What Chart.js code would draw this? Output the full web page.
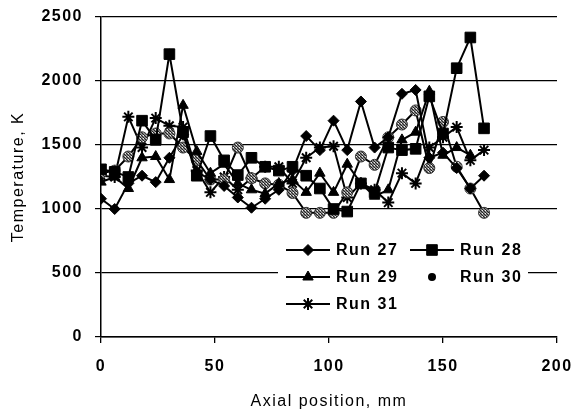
<!DOCTYPE html>
<html>
<head>
<meta charset="utf-8">
<script src="https://cdn.jsdelivr.net/npm/chart.js@4.4.1/dist/chart.umd.min.js"></script>
<style>
  html, body { margin: 0; padding: 0; background: #fff; }
  #wrap { width: 575px; height: 415px; }
</style>
</head>
<body>
<div id="wrap"><canvas id="chart" width="575" height="415"></canvas></div>
<script>
// axial positions, mm
const positions = [0, 6, 12, 18, 24, 30, 36, 42, 48, 54, 60, 66, 72, 78, 84, 90, 96, 102, 108, 114, 120, 126, 132, 138, 144, 150, 156, 162, 168];

// temperatures, K
const run27 = [1080, 1000, 1200, 1260, 1210, 1400, 1580, 1290, 1230, 1180, 1090, 1010, 1080, 1150, 1300, 1570, 1460, 1690, 1460, 1840, 1480, 1560, 1900, 1930, 1400, 1440, 1320, 1160, 1260];
const run28 = [1310, 1290, 1250, 1690, 1540, 2210, 1600, 1260, 1570, 1380, 1265, 1400, 1330, 1300, 1330, 1260, 1160, 1000, 980, 1200, 1130, 1480, 1460, 1470, 1880, 1590, 2100, 2340, 1630];
const run29 = [1210, 1250, 1160, 1400, 1410, 1230, 1810, 1450, 1280, 1350, 1200, 1150, 1120, 1200, 1230, 1130, 1280, 1130, 1350, 1200, 1100, 1150, 1540, 1600, 1920, 1420, 1480, 1420, null];
const run30 = [1280, 1300, 1410, 1560, 1590, 1590, 1480, 1380, 1230, 1230, 1480, 1240, 1200, 1190, 1125, 970, 970, 970, 1130, 1410, 1345, 1560, 1660, 1770, 1320, 1680, 1330, 1160, 970];
const run31 = [1260, 1250, 1720, 1480, 1710, 1650, 1640, 1300, 1130, 1250, 1150, 1240, 1330, 1330, 1200, 1400, 1480, 1490, 1090, 1200, 1150, 1050, 1280, 1200, 1480, 1560, 1640, 1380, 1460];

const seriesNames = ['Run 27', 'Run 28', 'Run 29', 'Run 30', 'Run 31'];
const xTicks = [0, 50, 100, 150, 200];
const yTicks = [0, 500, 1000, 1500, 2000, 2500];

const FONT = "'Liberation Sans', Arial, sans-serif";

// grey speckled fill for the Run 30 markers
function hatchPattern() {
    const c = document.createElement('canvas');
    c.width = 3; c.height = 3;
    const g = c.getContext('2d');
    g.fillStyle = '#888';
    g.fillRect(0, 0, 3, 3);
    g.fillStyle = '#222';
    g.fillRect(0, 0, 1, 1);
    g.fillRect(1, 1, 1, 1);
    g.fillRect(2, 2, 1, 1);
    g.fillStyle = '#eee';
    g.fillRect(2, 0, 1, 1);
    return g.createPattern(c, 'repeat');
}

function toPoints(values) {
    return positions.map((x, i) => ({ x: x, y: values[i] }));
}

const hatch = hatchPattern();

const styles = [
    { pointStyle: 'rectRot', radius: 5.5, fill: '#000', border: '#000', bw: 1 },
    { pointStyle: 'rect', radius: 7.5, fill: '#000', border: '#000', bw: 1 },
    { pointStyle: 'triangle', radius: 6, fill: '#000', border: '#000', bw: 1 },
    { pointStyle: 'circle', radius: 5.5, fill: hatch, border: '#333', bw: 1 },
    { pointStyle: 'star', radius: 6, fill: '#000', border: '#000', bw: 2 }
];

const allValues = [run27, run28, run29, run30, run31];

const datasets = allValues.map((vals, k) => ({
    label: seriesNames[k],
    data: toPoints(vals),
    borderColor: '#000',
    borderWidth: 2,
    pointStyle: styles[k].pointStyle,
    pointRadius: styles[k].radius,
    pointBackgroundColor: styles[k].fill,
    pointBorderColor: styles[k].border,
    pointBorderWidth: styles[k].bw,
    showLine: true,
    spanGaps: false,
    tension: 0
}));

// legend drawn inside the plot, in a white box
const boxLegend = {
    id: 'boxLegend',
    afterDatasetsDraw(chart) {
        const ctx = chart.ctx;
        const a = chart.chartArea;
        const left = a.left + 177;
        const top = a.top + 220;
        ctx.save();
        ctx.fillStyle = '#fff';
        ctx.fillRect(left, top, 250, 80);
        ctx.font = 'bold 16px ' + FONT;
        ctx.letterSpacing = '1.5px';
        ctx.textBaseline = 'middle';
        seriesNames.forEach((name, k) => {
            const col = k % 2;
            const row = Math.floor(k / 2);
            const x0 = left + 8 + col * 124;
            const y = top + 13 + row * 27;
            const st = styles[k];
            ctx.strokeStyle = '#000';
            ctx.fillStyle = '#000';
            ctx.lineWidth = 2;
            if (k === 3) {
                ctx.beginPath();
                ctx.arc(x0 + 22, y, 4, 0, Math.PI * 2);
                ctx.fill();
            } else {
                ctx.beginPath();
                ctx.moveTo(x0, y);
                ctx.lineTo(x0 + 44, y);
                ctx.stroke();
                ctx.fillStyle = st.fill;
                ctx.lineWidth = st.bw;
                Chart.helpers.drawPoint(ctx, { pointStyle: st.pointStyle, radius: st.radius, borderWidth: st.bw, rotation: 0 }, x0 + 22, y);
            }
            ctx.fillStyle = '#000';
            ctx.textAlign = 'left';
            ctx.fillText(name, x0 + 50, y + 1);
        });
        ctx.restore();
    }
};

const spacing = {
    id: 'spacing',
    beforeDraw(chart) {
        chart.ctx.letterSpacing = '1.5px';
    }
};

new Chart(document.getElementById('chart'), {
    type: 'scatter',
    data: { datasets: datasets },
    plugins: [spacing, boxLegend],
    options: {
        responsive: false,
        animation: false,
        layout: { padding: { top: 17, right: 18, left: 0, bottom: 0 } },
        plugins: {
            legend: { display: false },
            tooltip: { enabled: false }
        },
        scales: {
            x: {
                type: 'linear',
                min: 0,
                max: 200,
                afterBuildTicks: (s) => { s.ticks = xTicks.map(v => ({ value: v })); },
                afterFit: (s) => {
                    s.height = 78;
                    s.paddingLeft = 0;
                    s.paddingRight = 0;
                },
                ticks: {
                    color: '#000',
                    font: { family: FONT, size: 16, weight: 'bold' },
                    padding: 14,
                    maxRotation: 0,
                    callback: (v) => String(v)
                },
                grid: {
                    drawOnChartArea: false,
                    drawTicks: true,
                    tickLength: 6,
                    color: '#000',
                    lineWidth: 1.3
                },
                border: { display: true, color: '#000', width: 1.5 },
                title: {
                    display: true,
                    text: 'Axial position, mm',
                    color: '#000',
                    font: { family: FONT, size: 16, weight: 'normal' },
                    padding: { top: 0, bottom: 4 }
                }
            },
            y: {
                min: 0,
                max: 2500,
                afterBuildTicks: (s) => { s.ticks = yTicks.map(v => ({ value: v })); },
                afterFit: (s) => {
                    s.width = 101;
                    s.paddingTop = 0;
                    s.paddingBottom = 0;
                },
                ticks: {
                    color: '#000',
                    font: { family: FONT, size: 16, weight: 'bold' },
                    padding: 12,
                    callback: (v) => String(v)
                },
                grid: {
                    color: '#000',
                    lineWidth: 1.2,
                    tickLength: 6
                },
                border: { display: true, color: '#000', width: 1.5 },
                title: {
                    display: true,
                    text: 'Temperature, K',
                    color: '#000',
                    font: { family: FONT, size: 16, weight: 'normal' },
                    padding: { top: 9, bottom: 0 }
                }
            }
        }
    }
});
</script>
</body>
</html>
